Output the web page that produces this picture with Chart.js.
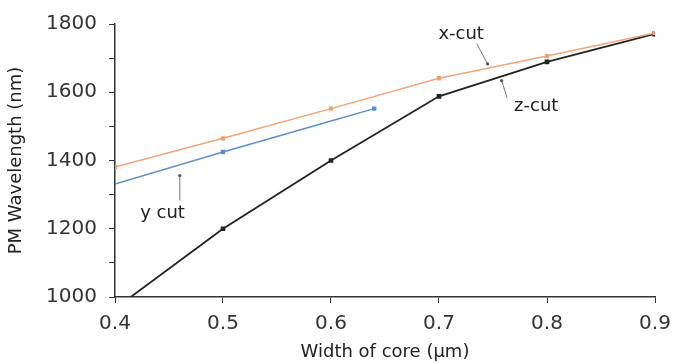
<!DOCTYPE html>
<html><head><meta charset="utf-8">
<script src="https://cdn.jsdelivr.net/npm/chart.js@4"></script>
<style>html,body{margin:0;padding:0;background:#fff}#wrap{width:673px;height:363px;position:relative}</style>
</head><body><div id="wrap"><canvas id="c" width="673" height="363"></canvas></div>
<script>
// Data
const xcutWidth = [0.4, 0.5, 0.6, 0.7, 0.8, 0.9];
const xcutWave  = [1381, 1465, 1552, 1641, 1706, 1774];
const ycutWidth = [0.4, 0.5, 0.6, 0.64];
const ycutWave  = [1331, 1425, 1516, 1552];
const zcutWidth = [0.4, 0.5, 0.6, 0.7, 0.8, 0.9];
const zcutWave  = [966, 1200, 1400, 1588, 1689, 1771];
const xTicks = [0.4, 0.5, 0.6, 0.7, 0.8, 0.9];
const yTickLabels = [1000, 1200, 1400, 1600, 1800];
// Annotations (text position and leader line in data units)
const annLabels = ['x-cut', 'z-cut', 'y cut'];
const annTextX  = [0.7205, 0.790, 0.444];
const annTextY  = [1771, 1558, 1245];
const annLineX1 = [0.735, 0.758, 0.460];
const annLineY1 = [1742, 1634, 1356];
const annLineX2 = [0.745, 0.763, 0.460];
const annLineY2 = [1683, 1584, 1283];
const annDotAt  = [2, 1, 1];

const pts = (xs, ys) => xs.map((x, i) => ({x, y: ys[i]}));
const FONT = "'DejaVu Sans', sans-serif";

const annPlugin = {
  id: 'ann',
  afterDatasetsDraw(chart) {
    const {ctx, scales: {x, y}} = chart;
    ctx.save();
    annLabels.forEach((t, i) => {
      const x1 = x.getPixelForValue(annLineX1[i]), y1 = y.getPixelForValue(annLineY1[i]);
      const x2 = x.getPixelForValue(annLineX2[i]), y2 = y.getPixelForValue(annLineY2[i]);
      ctx.strokeStyle = '#777'; ctx.lineWidth = 1;
      ctx.beginPath(); ctx.moveTo(x1, y1); ctx.lineTo(x2, y2); ctx.stroke();
      ctx.fillStyle = '#555';
      const dx = annDotAt[i] === 1 ? x1 : x2, dy = annDotAt[i] === 1 ? y1 : y2;
      ctx.beginPath(); ctx.arc(dx, dy, 1.6, 0, Math.PI * 2); ctx.fill();
      ctx.fillStyle = '#222';
      ctx.font = "18px " + FONT;
      ctx.textAlign = 'center'; ctx.textBaseline = 'middle';
      ctx.fillText(t, x.getPixelForValue(annTextX[i]), y.getPixelForValue(annTextY[i]));
    });
    ctx.restore();
  }
};

new Chart(document.getElementById('c'), {
  type: 'scatter',
  data: {
    datasets: [
      {label: 'x-cut', data: pts(xcutWidth, xcutWave), showLine: true, borderColor: '#f2a477', backgroundColor: '#e8874f', borderWidth: 1.5, pointRadius: 2, pointStyle: 'rect'},
      {label: 'y cut', data: pts(ycutWidth, ycutWave), showLine: true, borderColor: '#5f8fcf', backgroundColor: '#4a7cc0', borderWidth: 1.5, pointRadius: [0, 2, 0, 2], pointStyle: 'rect'},
      {label: 'z-cut', data: pts(zcutWidth, zcutWave), showLine: true, borderColor: '#222', backgroundColor: '#222', borderWidth: 1.8, pointRadius: [0, 2, 2, 2, 2, 2.5], pointStyle: 'rect'}
    ]
  },
  options: {
    responsive: false, animation: false, devicePixelRatio: 1,
    layout: {padding: {top: 23, right: 0, left: 0, bottom: 0}},
    plugins: {legend: {display: false}, tooltip: {enabled: false}},
    scales: {
      x: {
        type: 'linear', min: 0.4, max: 0.9,
        afterBuildTicks: s => { s.ticks = xTicks.map(v => ({value: v})); },
        afterFit: s => { s.height = 66; s.paddingRight = 18; },
        grid: {drawOnChartArea: false, drawTicks: true, tickLength: 6, color: '#333'},
        border: {color: '#333', width: 1.5},
        ticks: {padding: 9, color: '#333', font: {family: FONT, size: 20}, callback: v => v.toFixed(1)},
        title: {display: true, text: 'Width of core (μm)', color: '#222', font: {family: FONT, size: 18}, padding: {top: 0, bottom: 0}}
      },
      y: {
        min: 1000, max: 1800,
        ticks: {stepSize: 100, padding: 12, color: '#333', font: {family: FONT, size: 20},
          callback: v => yTickLabels.includes(v) ? String(v) : ''},
        afterFit: s => { s.width = 115; },
        grid: {drawOnChartArea: false, drawTicks: true, tickLength: 6, color: '#333'},
        border: {color: '#333', width: 1.5},
        title: {display: true, text: 'PM Wavelength (nm)', color: '#222', font: {family: FONT, size: 18}, padding: {top: 6, bottom: 4}}
      }
    }
  },
  plugins: [annPlugin]
});
</script></body></html>
